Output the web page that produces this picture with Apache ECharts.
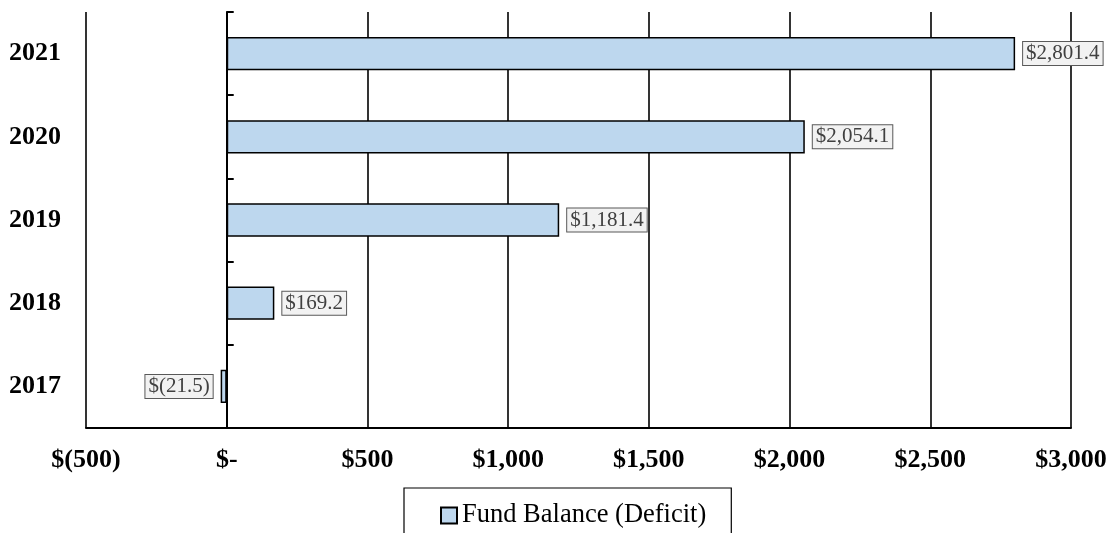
<!DOCTYPE html>
<html>
<head>
<meta charset="utf-8">
<script src="https://cdn.jsdelivr.net/npm/echarts@6/dist/echarts.min.js"></script>
<style>
  html, body { margin: 0; padding: 0; background: #fff; }
  #chart { width: 1113px; height: 533px; }
</style>
</head>
<body>
<div id="chart"></div>
<script>
// fund balance by fiscal year, $ millions
const years = ['2017', '2018', '2019', '2020', '2021'];
const balances = [-21.5, 169.2, 1181.4, 2054.1, 2801.4];
const seriesName = 'Fund Balance (Deficit)';

const serif = 'Liberation Serif, Times New Roman, serif';

function money(v, digits) {
    const s = Math.abs(v).toLocaleString('en-US', { minimumFractionDigits: digits, maximumFractionDigits: digits });
    if (v === 0) return '$-';
    return v < 0 ? '$(' + s + ')' : '$' + s;
}

const chart = echarts.init(document.getElementById('chart'));

chart.setOption({
    backgroundColor: '#fff',
    animation: false,
    grid: { left: 86, right: 42, top: 12, bottom: 105, containLabel: false, outerBoundsMode: 'none' },
    legend: {
        data: [seriesName],
        left: 404,
        top: 488,
        padding: [14, 25, 30, 36],
        borderColor: '#000',
        borderWidth: 1.2,
        itemWidth: 16,
        itemHeight: 16,
        icon: 'rect',
        textStyle: { fontFamily: serif, fontSize: 26.5, color: '#000' }
    },
    xAxis: {
        type: 'value',
        min: -500, max: 3000, interval: 500,
        axisLine: { show: true, lineStyle: { color: '#000', width: 2 } },
        axisTick: { show: false },
        splitLine: { show: true, lineStyle: { color: '#000', width: 1.6 } },
        axisLabel: {
            margin: 19,
            fontFamily: serif, fontSize: 26, fontWeight: 'bold', color: '#000',
            formatter: v => money(v, 0)
        }
    },
    yAxis: {
        type: 'category',
        data: years,
        axisLine: { show: true, onZero: true, lineStyle: { color: '#000', width: 2 } },
        axisTick: { show: true, inside: true, length: 7, lineStyle: { color: '#000', width: 2 } },
        axisLabel: {
            margin: 25,
            fontFamily: serif, fontSize: 26, fontWeight: 'bold', color: '#000'
        }
    },
    series: [{
        name: seriesName,
        type: 'bar',
        barWidth: '40%',
        itemStyle: { color: '#bdd7ee', borderColor: '#000', borderWidth: 1.5 },
        label: {
            show: true,
            distance: 8,
            fontFamily: serif, fontSize: 21, color: '#404040',
            backgroundColor: '#f2f2f2',
            borderColor: '#595959', borderWidth: 1,
            padding: [2, 3, 0, 3],
            formatter: p => money(p.value, 1)
        },
        data: balances.map(v => ({
            value: v,
            label: { position: v < 0 ? 'left' : 'right' }
        }))
    }]
});
</script>
</body>
</html>
